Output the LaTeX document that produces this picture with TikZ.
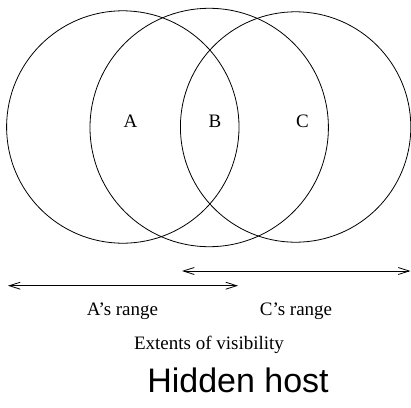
\documentclass[tikz,border=0pt]{standalone}
\usepackage{fontspec}
\setmainfont{Liberation Serif}
\newfontfamily\hostfont{Liberation Sans}
\usetikzlibrary{arrows.meta}
\begin{document}
\begin{tikzpicture}[x=1pt,y=-1pt,
  ring/.style={draw=black,line width=0.8pt},
  rangearrow/.style={draw=black,line width=0.8pt,{Straight Barb[length=11pt,width=7pt]}-{Straight Barb[length=11pt,width=7pt]}},
  lbl/.style={font=\fontsize{19}{22}\selectfont,anchor=base,inner sep=0pt},
  title/.style={font=\hostfont\fontsize{34}{38}\selectfont,anchor=base,inner sep=0pt}]
\useasboundingbox (0,0) rectangle (411,407);
\draw[ring] (122.8,127) circle[radius=116.2];
\draw[ring] (209.2,127.5) circle[radius=119.2];
\draw[ring] (295.6,127) circle[radius=115.2];
\node[lbl] (A) at (130.5,127) {A};
\node[lbl] (B) at (215,127) {B};
\node[lbl] (C) at (302.5,127) {C};
\coordinate (a1) at (8,285.7);
\coordinate (a2) at (238,285.7);
\coordinate (c1) at (182,271);
\coordinate (c2) at (410.5,271);
\draw[rangearrow] (a1) -- (a2);
\draw[rangearrow] (c1) -- (c2);
\node[lbl] (Ar) at (122.5,315) {A’s range};
\node[lbl] (Cr) at (296,315) {C’s range};
\node[lbl] (ext) at (209,349) {Extents of visibility};
\node[title] (hh) at (238,392) {Hidden host};
\end{tikzpicture}
\end{document}
